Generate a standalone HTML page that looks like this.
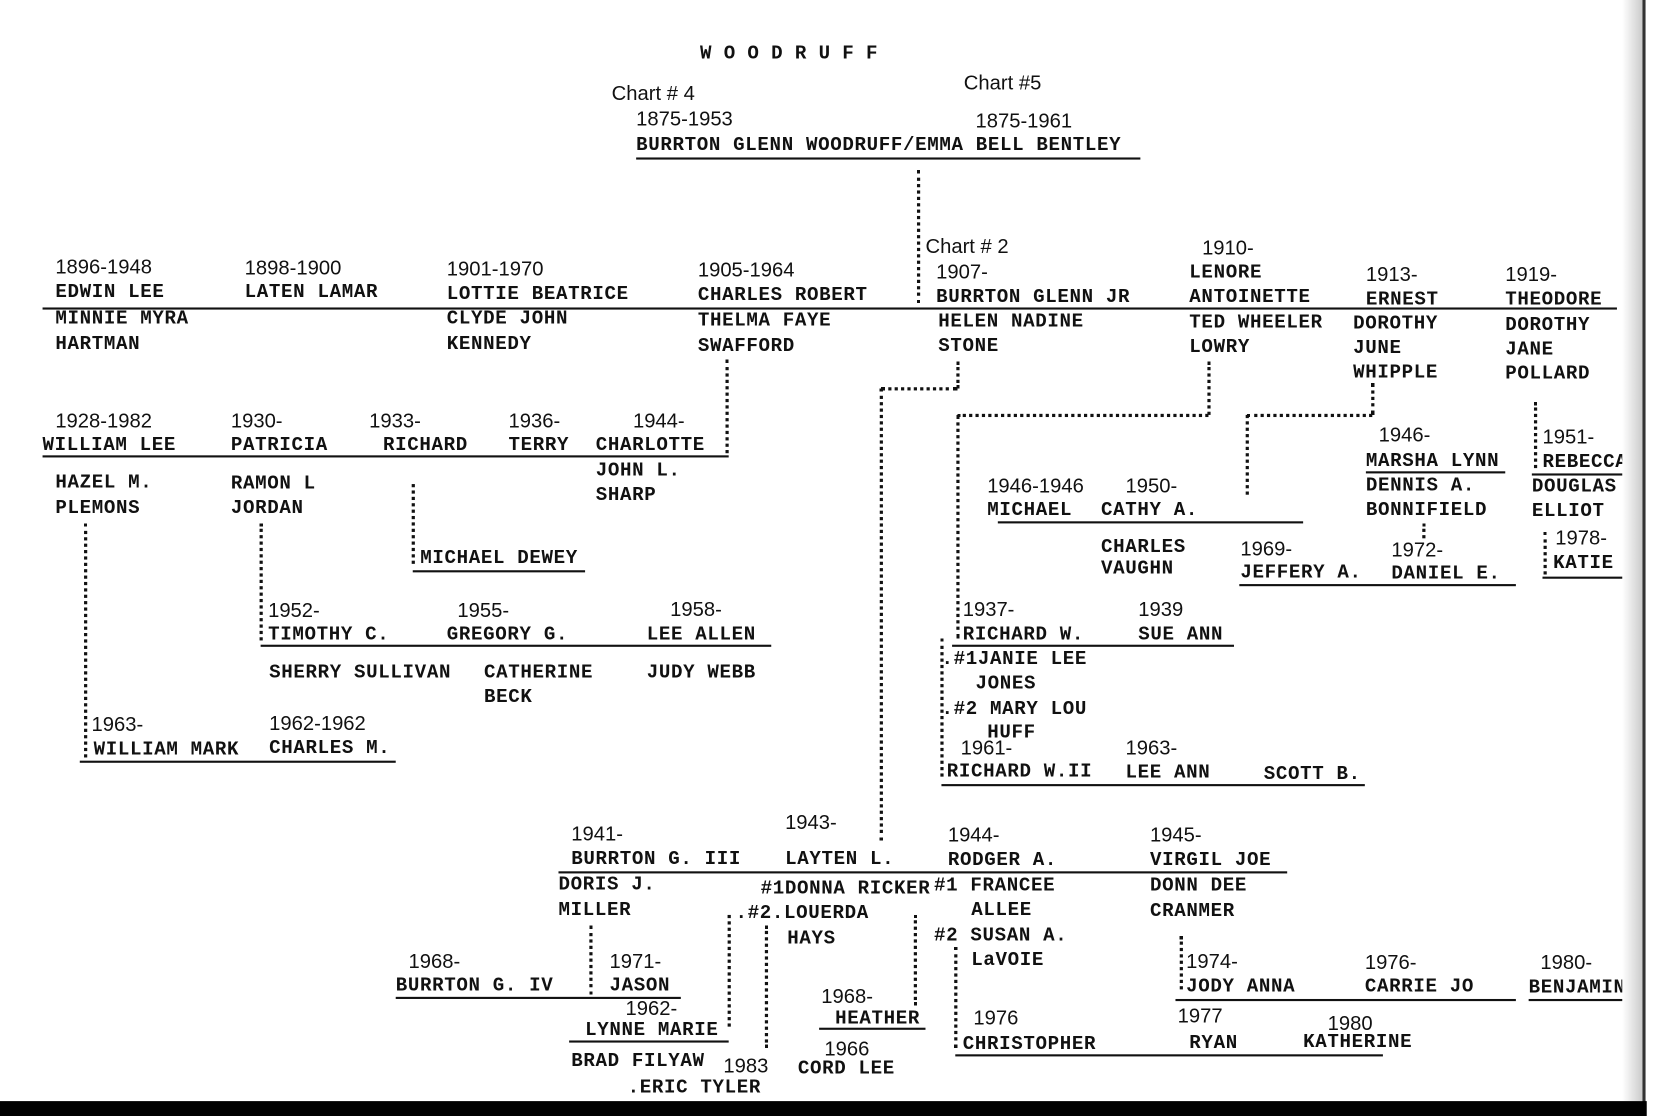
<!DOCTYPE html>
<html><head><meta charset="utf-8"><style>
html,body{margin:0;padding:0;background:#fff;width:1668px;height:1116px;overflow:hidden}
#c{position:absolute;left:0;top:0;width:1568px;height:1049px;transform:scale(1.06378,1.06387);transform-origin:0 0;font-family:"Liberation Mono",monospace;color:#111}
.t{position:absolute;font-size:18px;line-height:18px;white-space:pre;letter-spacing:0.6px;font-weight:bold;transform:translateY(-8px)}
.y{font-family:"Liberation Sans",sans-serif;font-weight:normal;font-size:19px;letter-spacing:0}
.h{position:absolute;height:2px;background:#111}
.v{position:absolute;width:0;border-left:3px dotted #111}
.d{position:absolute;height:0;border-top:3px dotted #111}
</style></head><body><div id="c">
<div class="t" style="left:658px;top:50px;letter-spacing:11.5px">WOODRUFF</div>
<div class="t y" style="left:575px;top:88px">Chart # 4</div>
<div class="t y" style="left:906px;top:78px">Chart #5</div>
<div class="t y" style="left:598px;top:112px">1875-1953</div>
<div class="t y" style="left:917px;top:114px">1875-1961</div>
<div class="t" style="left:598px;top:136px">BURRTON GLENN WOODRUFF/EMMA BELL BENTLEY</div>
<div class="h" style="left:598px;top:148px;width:474px"></div>
<div class="v" style="left:862px;top:160px;height:125px"></div>
<div class="h" style="left:40px;top:289px;width:1480px"></div>

<div class="t y" style="left:52px;top:251px">1896-1948</div><div class="t" style="left:52px;top:274px">EDWIN LEE</div>
<div class="t y" style="left:230px;top:252px">1898-1900</div><div class="t" style="left:230px;top:274px">LATEN LAMAR</div>
<div class="t y" style="left:420px;top:253px">1901-1970</div><div class="t" style="left:420px;top:276px">LOTTIE BEATRICE</div>
<div class="t y" style="left:656px;top:254px">1905-1964</div><div class="t" style="left:656px;top:277px">CHARLES ROBERT</div>
<div class="t y" style="left:870px;top:232px">Chart # 2</div><div class="t y" style="left:880px;top:256px">1907-</div><div class="t" style="left:880px;top:279px">BURRTON GLENN JR</div>
<div class="t y" style="left:1130px;top:233px">1910-</div><div class="t" style="left:1118px;top:256px">LENORE</div><div class="t" style="left:1118px;top:279px">ANTOINETTE</div>
<div class="t y" style="left:1284px;top:258px">1913-</div><div class="t" style="left:1284px;top:281px">ERNEST</div>
<div class="t y" style="left:1415px;top:258px">1919-</div><div class="t" style="left:1415px;top:281px">THEODORE</div>

<div class="t" style="left:52px;top:299px">MINNIE MYRA</div><div class="t" style="left:52px;top:323px">HARTMAN</div>
<div class="t" style="left:420px;top:299px">CLYDE JOHN</div><div class="t" style="left:420px;top:323px">KENNEDY</div>
<div class="t" style="left:656px;top:301px">THELMA FAYE</div><div class="t" style="left:656px;top:325px">SWAFFORD</div>
<div class="t" style="left:882px;top:302px">HELEN NADINE</div><div class="t" style="left:882px;top:325px">STONE</div>
<div class="t" style="left:1118px;top:303px">TED WHEELER</div><div class="t" style="left:1118px;top:326px">LOWRY</div>
<div class="t" style="left:1272px;top:304px">DOROTHY</div><div class="t" style="left:1272px;top:327px">JUNE</div><div class="t" style="left:1272px;top:350px">WHIPPLE</div>
<div class="t" style="left:1415px;top:305px">DOROTHY</div><div class="t" style="left:1415px;top:328px">JANE</div><div class="t" style="left:1415px;top:351px">POLLARD</div>

<div class="v" style="left:682px;top:338px;height:88px"></div>
<div class="h" style="left:40px;top:428px;width:645px"></div>
<div class="t y" style="left:52px;top:396px">1928-1982</div><div class="t" style="left:40px;top:418px">WILLIAM LEE</div>
<div class="t y" style="left:217px;top:396px">1930-</div><div class="t" style="left:217px;top:418px">PATRICIA</div>
<div class="t y" style="left:347px;top:396px">1933-</div><div class="t" style="left:360px;top:418px">RICHARD</div>
<div class="t y" style="left:478px;top:396px">1936-</div><div class="t" style="left:478px;top:418px">TERRY</div>
<div class="t y" style="left:595px;top:396px">1944-</div><div class="t" style="left:560px;top:418px">CHARLOTTE</div>
<div class="t" style="left:52px;top:453px">HAZEL M.</div><div class="t" style="left:52px;top:477px">PLEMONS</div>
<div class="t" style="left:217px;top:454px">RAMON L</div><div class="t" style="left:217px;top:477px">JORDAN</div>
<div class="t" style="left:560px;top:442px">JOHN L.</div><div class="t" style="left:560px;top:465px">SHARP</div>
<div class="v" style="left:387px;top:455px;height:75px"></div>
<div class="t" style="left:395px;top:524px">MICHAEL DEWEY</div><div class="h" style="left:388px;top:536px;width:162px"></div>
<div class="v" style="left:244px;top:492px;height:110px"></div>
<div class="h" style="left:245px;top:606px;width:480px"></div>
<div class="t y" style="left:252px;top:574px">1952-</div><div class="t" style="left:252px;top:596px">TIMOTHY C.</div>
<div class="t y" style="left:430px;top:574px">1955-</div><div class="t" style="left:420px;top:596px">GREGORY G.</div>
<div class="t y" style="left:630px;top:573px">1958-</div><div class="t" style="left:608px;top:596px">LEE ALLEN</div>
<div class="t" style="left:253px;top:632px">SHERRY SULLIVAN</div>
<div class="t" style="left:455px;top:632px">CATHERINE</div><div class="t" style="left:455px;top:655px">BECK</div>
<div class="t" style="left:608px;top:632px">JUDY WEBB</div>
<div class="v" style="left:79px;top:492px;height:220px"></div>
<div class="h" style="left:75px;top:715px;width:297px"></div>
<div class="t y" style="left:86px;top:681px">1963-</div><div class="t" style="left:88px;top:704px">WILLIAM MARK</div>
<div class="t y" style="left:253px;top:680px">1962-1962</div><div class="t" style="left:253px;top:703px">CHARLES M.</div>

<div class="v" style="left:899px;top:340px;height:25px"></div>
<div class="d" style="left:828px;top:364px;width:72px"></div>
<div class="v" style="left:827px;top:365px;height:425px"></div>
<div class="h" style="left:525px;top:819px;width:685px"></div>
<div class="t y" style="left:537px;top:784px">1941-</div><div class="t" style="left:537px;top:807px">BURRTON G. III</div>
<div class="t y" style="left:738px;top:773px">1943-</div><div class="t" style="left:738px;top:807px">LAYTEN L.</div>
<div class="t y" style="left:891px;top:785px">1944-</div><div class="t" style="left:891px;top:808px">RODGER A.</div>
<div class="t y" style="left:1081px;top:785px">1945-</div><div class="t" style="left:1081px;top:808px">VIRGIL JOE</div>
<div class="t" style="left:525px;top:831px">DORIS J.</div><div class="t" style="left:525px;top:855px">MILLER</div>
<div class="t" style="left:715px;top:835px">#1DONNA RICKER</div>
<div class="t" style="left:680px;top:858px">..#2.LOUERDA</div><div class="t" style="left:740px;top:882px">HAYS</div>
<div class="t" style="left:878px;top:832px">#1 FRANCEE</div><div class="t" style="left:913px;top:855px">ALLEE</div>
<div class="t" style="left:878px;top:879px">#2 SUSAN A.</div><div class="t" style="left:913px;top:902px">LaVOIE</div>
<div class="t" style="left:1081px;top:832px">DONN DEE</div><div class="t" style="left:1081px;top:856px">CRANMER</div>
<div class="v" style="left:554px;top:870px;height:65px"></div>
<div class="t y" style="left:384px;top:904px">1968-</div><div class="t" style="left:372px;top:926px">BURRTON G. IV</div>
<div class="h" style="left:372px;top:937px;width:268px"></div>
<div class="t y" style="left:573px;top:904px">1971-</div><div class="t" style="left:573px;top:926px">JASON</div>
<div class="t y" style="left:588px;top:948px">1962-</div><div class="t" style="left:550px;top:968px">LYNNE MARIE</div>
<div class="h" style="left:535px;top:978px;width:150px"></div>
<div class="v" style="left:684px;top:860px;height:105px"></div>
<div class="t" style="left:537px;top:997px">BRAD FILYAW</div>
<div class="t y" style="left:680px;top:1002px">1983</div>
<div class="t" style="left:590px;top:1022px">.ERIC TYLER</div>
<div class="v" style="left:719px;top:870px;height:115px"></div>
<div class="t y" style="left:775px;top:986px">1966</div><div class="t" style="left:750px;top:1004px">CORD LEE</div>
<div class="t y" style="left:772px;top:937px">1968-</div><div class="t" style="left:785px;top:957px">HEATHER</div>
<div class="h" style="left:770px;top:966px;width:100px"></div>
<div class="v" style="left:859px;top:860px;height:85px"></div>
<div class="v" style="left:897px;top:890px;height:95px"></div>
<div class="t y" style="left:915px;top:957px">1976</div><div class="t" style="left:905px;top:981px">CHRISTOPHER</div>
<div class="h" style="left:898px;top:991px;width:402px"></div>
<div class="v" style="left:1109px;top:880px;height:50px"></div>
<div class="t y" style="left:1115px;top:904px">1974-</div><div class="t" style="left:1115px;top:927px">JODY ANNA</div>
<div class="h" style="left:1105px;top:939px;width:320px"></div>
<div class="t y" style="left:1283px;top:905px">1976-</div><div class="t" style="left:1283px;top:927px">CARRIE JO</div>
<div class="t y" style="left:1448px;top:905px">1980-</div><div class="t" style="left:1437px;top:928px">BENJAMIN</div>
<div class="h" style="left:1437px;top:939px;width:93px"></div>
<div class="t y" style="left:1107px;top:955px">1977</div><div class="t" style="left:1118px;top:980px">RYAN</div>
<div class="t y" style="left:1248px;top:962px">1980</div><div class="t" style="left:1225px;top:979px">KATHERINE</div>

<div class="v" style="left:1135px;top:340px;height:50px"></div>
<div class="d" style="left:900px;top:389px;width:236px"></div>
<div class="v" style="left:899px;top:390px;height:210px"></div>
<div class="t y" style="left:928px;top:457px">1946-1946</div><div class="t" style="left:928px;top:479px">MICHAEL</div>
<div class="t y" style="left:1058px;top:457px">1950-</div><div class="t" style="left:1035px;top:479px">CATHY A.</div>
<div class="h" style="left:938px;top:490px;width:287px"></div>
<div class="t" style="left:1035px;top:514px">CHARLES</div><div class="t" style="left:1035px;top:534px">VAUGHN</div>
<div class="t y" style="left:905px;top:573px">1937-</div><div class="t" style="left:905px;top:596px">RICHARD W.</div>
<div class="t y" style="left:1070px;top:573px">1939</div><div class="t" style="left:1070px;top:596px">SUE ANN</div>
<div class="h" style="left:895px;top:606px;width:265px"></div>
<div class="t" style="left:885px;top:619px">.#1JANIE LEE</div><div class="t" style="left:917px;top:642px">JONES</div>
<div class="t" style="left:885px;top:666px">.#2 MARY LOU</div><div class="t" style="left:928px;top:688px">HUFF</div>
<div class="v" style="left:884px;top:600px;height:130px"></div>
<div class="t y" style="left:903px;top:703px">1961-</div><div class="t" style="left:890px;top:725px">RICHARD W.II</div>
<div class="t y" style="left:1058px;top:703px">1963-</div><div class="t" style="left:1058px;top:726px">LEE ANN</div>
<div class="t" style="left:1188px;top:727px">SCOTT B.</div>
<div class="h" style="left:885px;top:737px;width:398px"></div>

<div class="v" style="left:1289px;top:360px;height:30px"></div>
<div class="d" style="left:1172px;top:389px;width:118px"></div>
<div class="v" style="left:1171px;top:390px;height:75px"></div>
<div class="t y" style="left:1296px;top:409px">1946-</div><div class="t" style="left:1284px;top:433px">MARSHA LYNN</div>
<div class="h" style="left:1284px;top:443px;width:131px"></div>
<div class="t" style="left:1284px;top:456px">DENNIS A.</div><div class="t" style="left:1284px;top:479px">BONNIFIELD</div>
<div class="v" style="left:1337px;top:492px;height:14px"></div>
<div class="t y" style="left:1166px;top:516px">1969-</div><div class="t" style="left:1166px;top:538px">JEFFERY A.</div>
<div class="t y" style="left:1308px;top:517px">1972-</div><div class="t" style="left:1308px;top:539px">DANIEL E.</div>
<div class="h" style="left:1165px;top:549px;width:260px"></div>

<div class="v" style="left:1442px;top:378px;height:62px"></div>
<div class="t y" style="left:1450px;top:411px">1951-</div><div class="t" style="left:1450px;top:434px">REBECCA</div>
<div class="h" style="left:1440px;top:445px;width:100px"></div>
<div class="t" style="left:1440px;top:457px">DOUGLAS</div><div class="t" style="left:1440px;top:480px">ELLIOT</div>
<div class="v" style="left:1451px;top:500px;height:40px"></div>
<div class="t y" style="left:1462px;top:506px">1978-</div><div class="t" style="left:1460px;top:529px">KATIE E</div>
<div class="h" style="left:1450px;top:542px;width:90px"></div>

<div style="position:absolute;left:1525px;top:0;width:20px;height:1035px;background:linear-gradient(to right,#fff,#c8c8c8)"></div>
<div style="position:absolute;left:1544px;top:0;width:3px;height:1040px;background:#333"></div>
<div style="position:absolute;left:1547px;top:0;width:21px;height:1049px;background:#fff"></div>
<div style="position:absolute;left:0;top:1035px;width:1548px;height:14px;background:#000"></div>
</div></body></html>
